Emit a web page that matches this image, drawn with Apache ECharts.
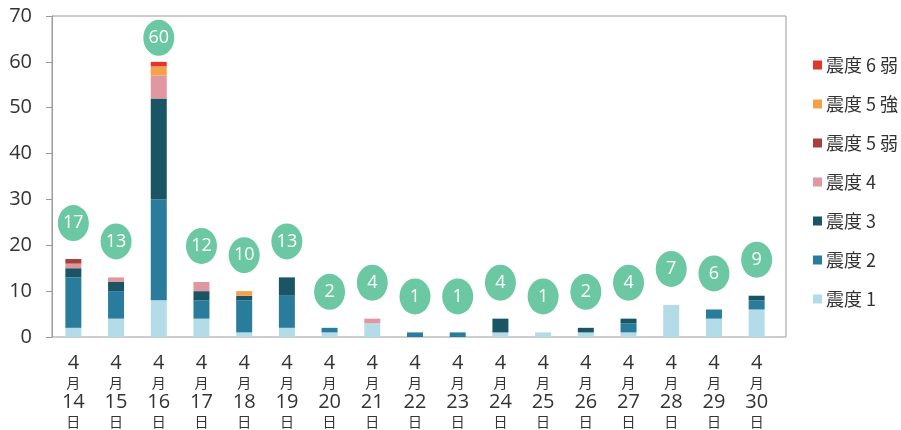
<!DOCTYPE html>
<html>
<head>
<meta charset="utf-8">
<script src="https://cdn.jsdelivr.net/npm/echarts@6/dist/echarts.min.js"></script>
<style>
  html, body { margin: 0; padding: 0; background: #fff; }
  #chart { width: 901px; height: 430px; }
</style>
</head>
<body>
<div id="chart"></div>
<script>
// 日付（4月14日〜30日）
const days = ['14', '15', '16', '17', '18', '19', '20', '21', '22', '23', '24', '25', '26', '27', '28', '29', '30'];

// 震度別の回数
const shindo1  = [2, 4, 8, 4, 1, 2, 1, 3, 0, 0, 1, 1, 1, 1, 7, 4, 6];
const shindo2  = [11, 6, 22, 4, 7, 7, 1, 0, 1, 1, 0, 0, 0, 2, 0, 2, 2];
const shindo3  = [2, 2, 22, 2, 1, 4, 0, 0, 0, 0, 3, 0, 1, 1, 0, 0, 1];
const shindo4  = [1, 1, 5, 2, 0, 0, 0, 1, 0, 0, 0, 0, 0, 0, 0, 0, 0];
const shindo5w = [1, 0, 0, 0, 0, 0, 0, 0, 0, 0, 0, 0, 0, 0, 0, 0, 0];
const shindo5s = [0, 0, 2, 0, 1, 0, 0, 0, 0, 0, 0, 0, 0, 0, 0, 0, 0];
const shindo6w = [0, 0, 1, 0, 0, 0, 0, 0, 0, 0, 0, 0, 0, 0, 0, 0, 0];

// 丸の中の合計回数
const totals = [17, 13, 60, 12, 10, 13, 2, 4, 1, 1, 4, 1, 2, 4, 7, 6, 9];

const yTicks = [0, 10, 20, 30, 40, 50, 60, 70];

const chart = echarts.init(document.getElementById('chart'));

const levels = [
  { name: '震度 1', data: shindo1, color: '#b4dbe8' },
  { name: '震度 2', data: shindo2, color: '#2a7c9c' },
  { name: '震度 3', data: shindo3, color: '#1a5566' },
  { name: '震度 4', data: shindo4, color: '#e0979f' },
  { name: '震度 5 弱', data: shindo5w, color: '#a6403a' },
  { name: '震度 5 強', data: shindo5s, color: '#f4a04c' },
  { name: '震度 6 弱', data: shindo6w, color: '#e2362c' }
];

const barSeries = levels.map(l => ({
  name: l.name,
  type: 'bar',
  stack: 'total',
  xAxisIndex: 1,
  yAxisIndex: 1,
  barWidth: 16,
  itemStyle: { color: l.color },
  data: l.data
}));

const option = {
  backgroundColor: '#fff',
  animation: false,
  textStyle: { fontFamily: '"Open Sans", "Noto Sans CJK JP", sans-serif' },
  grid: [
    // 枠線用
    { left: 52, right: 115, top: 16, bottom: 93, show: true, borderColor: '#9a9a9a', borderWidth: 1 },
    // 棒グラフ用
    { left: 52, right: 123, top: 16, bottom: 93 }
  ],
  legend: {
    orient: 'vertical',
    left: 808,
    top: 51,
    itemWidth: 9,
    itemHeight: 9,
    itemGap: 21,
    icon: 'rect',
    data: levels.map(l => l.name).reverse(),
    textStyle: {
      fontSize: 18,
      color: '#333',
      padding: [0, 0, 0, -1],
      fontFamily: '"Noto Sans CJK JP", sans-serif'
    }
  },
  xAxis: [
    { gridIndex: 0, type: 'value', min: 0, max: 1, show: false },
    {
      gridIndex: 1,
      type: 'category',
      data: days,
      axisLine: { show: false },
      axisTick: { show: false },
      axisLabel: {
        interval: 0,
        margin: 16,
        formatter: d => '{n|4}\n{k|月}\n{n|' + d + '}\n{k|日}',
        rich: {
          n: { fontSize: 20, lineHeight: 20, color: '#333', fontFamily: '"Liberation Sans Narrow", "Open Sans", sans-serif' },
          k: { fontSize: 14, lineHeight: 19, color: '#333', fontFamily: '"Noto Sans CJK JP", sans-serif' }
        }
      }
    }
  ],
  yAxis: [
    {
      gridIndex: 0,
      type: 'value',
      min: yTicks[0],
      max: yTicks[yTicks.length - 1],
      interval: 10,
      splitLine: { show: false },
      axisLine: { show: true, lineStyle: { color: '#9a9a9a' } },
      axisTick: { show: true, length: 6, lineStyle: { color: '#9a9a9a' } },
      axisLabel: { fontSize: 20, color: '#333', margin: 20 }
    },
    {
      gridIndex: 1,
      type: 'value',
      min: yTicks[0],
      max: yTicks[yTicks.length - 1],
      show: false
    }
  ],
  series: [
    ...barSeries,
    {
      name: '合計',
      type: 'scatter',
      xAxisIndex: 1,
      yAxisIndex: 1,
      symbol: 'circle',
      symbolSize: [31, 36],
      z: 5,
      itemStyle: { color: '#6cc8a3', opacity: 1 },
      label: {
        show: true,
        position: 'inside',
        color: '#fff',
        fontSize: 18,
        formatter: p => p.value
      },
      data: totals.map(v => ({
        value: v,
        // 上端に近い丸は少し下げる
        symbolOffset: [0, v > 50 ? -24 : -36]
      }))
    }
  ]
};

chart.setOption(option);
</script>
</body>
</html>
